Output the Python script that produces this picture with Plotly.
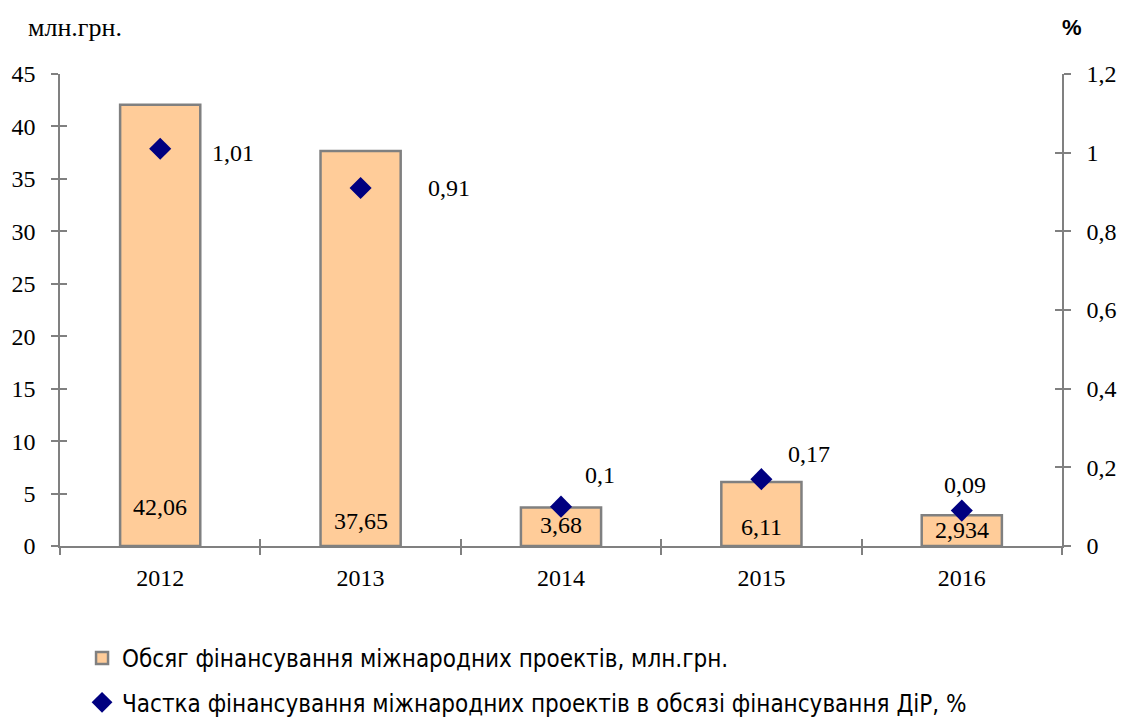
import plotly.graph_objects as go

# Data
years = ["2012", "2013", "2014", "2015", "2016"]
volume = [42.06, 37.65, 3.68, 6.11, 2.934]          # млн.грн.
volume_labels = ["42,06", "37,65", "3,68", "6,11", "2,934"]
share = [1.01, 0.91, 0.1, 0.17, 0.09]               # %
share_labels = ["1,01", "0,91", "0,1", "0,17", "0,09"]

# label offsets (px)
volume_dy = [39, 25, 21, 19, 16]
share_dx = [73, 88, 39, 48, 3]
share_dy = [-4, 0, 32, 25, 26]

serif = "Liberation Serif"
narrow = "DejaVu Sans Condensed"
axis_grey = "#808080"

FIG_W, FIG_H = 1123, 719
TOP, BOTTOM_PX = 74, 546      # pixel rows of the plot area's top and bottom
plot_h = FIG_H - TOP          # height of the area below the top margin


def paper_y(px):
    """paper y coordinate for a pixel row (bottom margin is zero)."""
    return (FIG_H - px) / plot_h


fig = go.Figure()

fig.add_trace(go.Bar(
    x=years, y=volume, name="Обсяг фінансування міжнародних проектів, млн.грн.",
    marker=dict(color="#FFCC99", line=dict(color=axis_grey, width=2.5)),
    width=0.4,
    legendgroup="a", yaxis="y", xaxis="x",
))

fig.add_trace(go.Scatter(
    x=years, y=share, mode="markers",
    name="Частка фінансування міжнародних проектів в обсязі фінансування ДіР, %",
    marker=dict(symbol="diamond", size=17, color="#000080"),
    legendgroup="b", yaxis="y2", xaxis="x",
))

# invisible helpers so the overlay axes (inner half of crossing ticks) render
fig.add_trace(go.Scatter(x=years, y=volume, mode="markers", marker=dict(opacity=0),
                         showlegend=False, hoverinfo="skip", xaxis="x2", yaxis="y3"))
fig.add_trace(go.Scatter(x=years, y=share, mode="markers", marker=dict(opacity=0),
                         showlegend=False, hoverinfo="skip", xaxis="x2", yaxis="y4"))

annotations = []
for i, (t, dy) in enumerate(zip(volume_labels, volume_dy)):
    annotations.append(dict(x=i, y=0, xref="x", yref="y", text=t, showarrow=False,
                            yanchor="middle", yshift=dy,
                            font=dict(family=serif, size=24, color="black")))
for i, (v, t, dx, dy) in enumerate(zip(share, share_labels, share_dx, share_dy)):
    annotations.append(dict(x=i, y=v, xref="x", yref="y2", text=t, showarrow=False,
                            xshift=dx, yshift=dy,
                            font=dict(family=serif, size=24, color="black")))
annotations.append(dict(x=0, y=paper_y(28), xref="paper", yref="paper",
                        text="млн.грн.", showarrow=False, xanchor="left",
                        yanchor="middle", xshift=-34,
                        font=dict(family=serif, size=26, color="black")))
annotations.append(dict(x=1.0, y=paper_y(28), xref="paper", yref="paper",
                        text="<b>%</b>", showarrow=False, xanchor="left",
                        yanchor="middle", xshift=-2,
                        font=dict(family="Liberation Sans", size=22, color="black")))

tick_style = dict(tickcolor=axis_grey, ticklen=7, tickwidth=1.5)
common_y = dict(showgrid=False, zeroline=False, linecolor=axis_grey, linewidth=1.5,
                tickfont=dict(family=serif, size=24, color="black"),
                ticklabelstandoff=11, **tick_style)
cat_range = [-0.5, len(years) - 0.5]
y_domain = [paper_y(BOTTOM_PX), 1]

fig.update_layout(
    width=FIG_W, height=FIG_H,
    margin=dict(l=60, r=61, t=TOP, b=0, autoexpand=False),
    plot_bgcolor="white", paper_bgcolor="white",
    separators=", ",
    showlegend=True,
    legend=dict(x=0.022, y=paper_y(636), xanchor="left", yanchor="top",
                orientation="v",
                font=dict(family=narrow, size=24, color="black"),
                tracegroupgap=10, bgcolor="rgba(0,0,0,0)"),
    xaxis=dict(type="category", range=cat_range, showgrid=False, showline=True,
               linecolor=axis_grey, linewidth=1.5, ticks="outside",
               tickson="boundaries", tickangle=0,
               tickfont=dict(family=serif, size=24, color="black"),
               ticklabelstandoff=9, **tick_style),
    xaxis2=dict(type="category", range=cat_range, overlaying="x", showgrid=False,
                showline=False, ticks="inside", tickson="boundaries",
                showticklabels=False, side="bottom", **tick_style),
    yaxis=dict(range=[0, 45], dtick=5, ticks="outside", showline=True, side="left",
               domain=y_domain, **common_y),
    yaxis2=dict(range=[0, 1.2], dtick=0.2, ticks="outside", showline=True,
                side="right", overlaying="y", **common_y),
    yaxis3=dict(range=[0, 45], dtick=5, ticks="inside", showline=False, side="left",
                overlaying="y", showticklabels=False, showgrid=False, zeroline=False,
                **tick_style),
    yaxis4=dict(range=[0, 1.2], dtick=0.2, ticks="inside", showline=False,
                side="right", overlaying="y", showticklabels=False, showgrid=False,
                zeroline=False, **tick_style),
    annotations=annotations,
)

fig.write_html("out.html")
